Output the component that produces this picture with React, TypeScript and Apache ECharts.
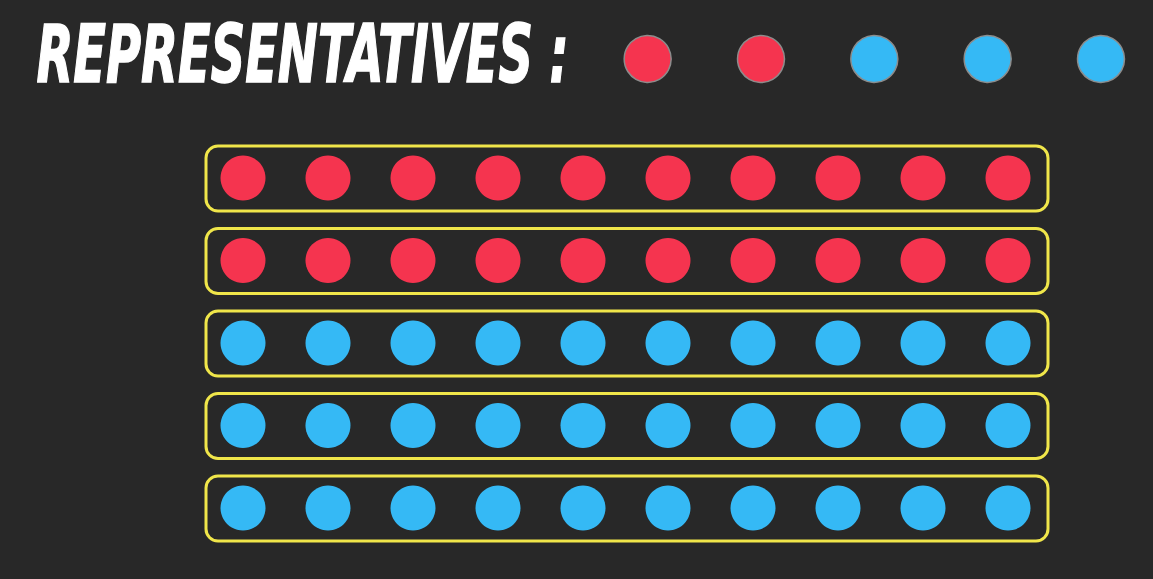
import React, { useEffect, useRef } from "react";
import * as echarts from "echarts";

const columns = ["1", "2", "3", "4", "5", "6", "7", "8", "9", "10"];
const rows = ["District 1", "District 2", "District 3", "District 4", "District 5"];
const rowParty = ["R", "R", "D", "D", "D"];
const representatives = [0, 1, 2, 3, 4];
const representativeParty = ["R", "R", "D", "D", "D"];
const titleText = "REPRESENTATIVES :";

const RED = "#f5344f";
const BLUE = "#35b9f5";
const YELLOW = "#f0e64a";
const BG = "#282828";

export default function App() {
  const ref = useRef<HTMLDivElement>(null);
  useEffect(() => {
    document.body.style.margin = "0";
    document.body.style.background = BG;
    const chart = echarts.init(ref.current!, null, { renderer: "svg" });
    const voterData: any[] = [];
    rows.forEach((r, ri) => {
      columns.forEach((c, ci) => {
        voterData.push({ value: [ci, ri], itemStyle: { color: rowParty[ri] === "R" ? RED : BLUE } });
      });
    });
    const boxData = rows.map((r, ri) => [0, ri, columns.length - 1]);
    const repData = representatives.map((r, i) => ({
      value: [r, 0],
      itemStyle: { color: representativeParty[i] === "R" ? RED : BLUE },
    }));
    chart.setOption({
      animation: false,
      backgroundColor: BG,
      graphic: [
        {
          type: "text",
          left: 36,
          top: 14,
          scaleX: 0.665,
          style: {
            text: titleText,
            fill: "#ffffff",
            stroke: "#ffffff",
            lineWidth: 1.5,
            font: "italic bold 80px 'Liberation Sans Narrow', 'DejaVu Sans Condensed', sans-serif",
          },
        },
      ],
      grid: [
        { left: 200.5, width: 850, top: 136.75, height: 412.5 },
        { left: 591, width: 561, top: 34, height: 50 },
      ],
      xAxis: [
        { type: "category", data: columns, gridIndex: 0, show: false },
        { type: "value", min: -0.5, max: 4.45, gridIndex: 1, show: false },
      ],
      yAxis: [
        { type: "category", data: rows, gridIndex: 0, inverse: true, show: false },
        { type: "category", data: ["Reps"], gridIndex: 1, show: false },
      ],
      series: [
        {
          type: "custom",
          xAxisIndex: 0,
          yAxisIndex: 0,
          data: boxData,
          renderItem: (params: any, api: any) => {
            const start = api.coord([api.value(0), api.value(1)]);
            const end = api.coord([api.value(2), api.value(1)]);
            const x0 = start[0] - 37;
            const x1 = end[0] + 40;
            const h = 65;
            return {
              type: "rect",
              shape: { x: x0, y: start[1] - h / 2 + 0.5, width: x1 - x0, height: h, r: 12 },
              style: { fill: "none", stroke: YELLOW, lineWidth: 3 },
            };
          },
        },
        {
          type: "scatter",
          xAxisIndex: 0,
          yAxisIndex: 0,
          symbol: "circle",
          symbolSize: 45,
          itemStyle: { opacity: 1 },
          data: voterData,
        },
        {
          type: "scatter",
          xAxisIndex: 1,
          yAxisIndex: 1,
          symbol: "circle",
          symbolSize: 47,
          itemStyle: { opacity: 1, borderColor: "#8c8c8c", borderWidth: 1.5 },
          data: repData,
        },
      ],
    });
    return () => chart.dispose();
  }, []);
  return <div ref={ref} style={{ width: 1153, height: 579 }} />;
}
